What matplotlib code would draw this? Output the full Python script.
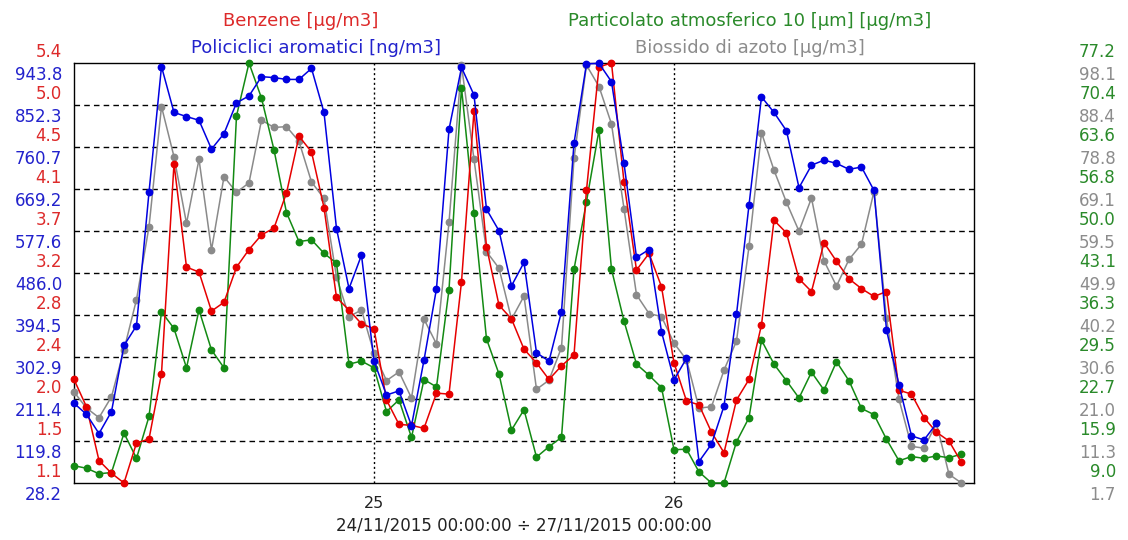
import numpy as np
import matplotlib
matplotlib.use("Agg")
import matplotlib.pyplot as plt

# hourly samples, 24/11/2015 00:00 -> 26/11/2015 23:00
hours = np.arange(72)

benzene = [2.16, 1.88, 1.33, 1.20, 1.10, 1.51, 1.55, 2.22, 4.37, 3.31, 3.26, 2.86, 2.95, 3.31, 3.49, 3.64,
           3.71, 4.07, 4.65, 4.49, 3.92, 3.00, 2.87, 2.73, 2.68,
           1.95, 1.70, 1.69, 1.66, 2.02, 2.01, 3.16, 4.91, 3.52, 2.92, 2.78, 2.47, 2.33, 2.16, 2.30, 2.41,
           4.10, 5.36, 5.40, 4.18, 3.28, 3.45, 3.11,
           2.33, 1.94, 1.90, 1.62, 1.41, 1.95, 2.16, 2.72, 3.79, 3.66, 3.19, 3.06, 3.56, 3.37, 3.19, 3.09,
           3.01, 3.06, 2.05, 2.01, 1.77, 1.62, 1.53, 1.31]

policiclici = [202, 178, 136, 184, 328, 371, 662, 936, 836, 827, 819, 756, 790, 857, 872, 914,
               912, 908, 908, 932, 836, 583, 452, 525, 294,
               220, 229, 153, 296, 452, 799, 934, 874, 625, 578, 458, 509, 312, 294, 402, 769,
               942, 943, 903, 725, 520, 537, 358,
               253, 300, 75, 113, 196, 396, 634, 870, 836, 796, 672, 721, 732, 725, 712, 717,
               666, 362, 242, 131, 122, 158, np.nan, np.nan]

pm10 = [11.8, 11.4, 10.5, 10.7, 17.1, 13.0, 19.8, 36.8, 34.1, 27.7, 37.1, 30.6, 27.7, 68.6, 77.2, 71.5,
        63.1, 52.9, 48.2, 48.5, 46.3, 44.7, 28.3, 28.8, 27.7,
        20.6, 22.5, 16.4, 25.8, 24.6, 40.4, 73.2, 52.8, 32.4, 26.7, 17.6, 20.9, 13.2, 14.9, 16.4, 43.7,
        54.7, 66.3, 43.7, 35.3, 28.3, 26.5, 24.5,
        14.4, 14.5, 10.8, 9.0, 9.0, 15.7, 19.6, 32.2, 28.3, 25.6, 22.8, 27.0, 24.1, 28.7, 25.6, 21.1,
        20.1, 16.1, 12.6, 13.3, 13.0, 13.4, 13.1, 13.7]

no2 = [22.6, 18.9, 16.7, 21.5, 32.3, 43.8, 60.5, 88.1, 76.6, 61.3, 76.0, 55.2, 72.0, 68.4, 70.6, 85.0,
       83.3, 83.5, 80.1, 70.8, 67.0, 49.0, 39.9, 41.4, 31.5,
       25.2, 27.2, 21.2, 39.3, 33.6, 61.5, 97.6, 76.0, 54.8, 51.0, 39.3, 44.6, 23.2, 25.3, 32.8, 76.2,
       97.6, 92.7, 84.1, 64.7, 44.9, 40.6, 39.9,
       33.8, 30.0, 18.9, 19.2, 27.6, 34.3, 56.0, 82.1, 73.5, 66.1, 59.5, 67.1, 52.7, 46.9, 53.0, 56.5,
       68.6, 39.5, 20.9, 10.1, 9.7, 15.4, 3.7, 1.7]

benzene_labels = ["1.1", "1.5", "2.0", "2.4", "2.8", "3.2", "3.7", "4.1", "4.5", "5.0", "5.4"]
polic_labels = ["28.2", "119.8", "211.4", "302.9", "394.5", "486.0", "577.6", "669.2", "760.7", "852.3", "943.8"]
pm10_labels = ["9.0", "15.9", "22.7", "29.5", "36.3", "43.1", "50.0", "56.8", "63.6", "70.4", "77.2"]
no2_labels = ["1.7", "11.3", "21.0", "30.6", "40.2", "49.9", "59.5", "69.1", "78.8", "88.4", "98.1"]

day_ticks = [24, 48]
day_labels = ["25", "26"]

RED = "#e60000"
BLUE = "#0000e0"
GREEN = "#138a13"
GRAY = "#8a8a8a"

fig = plt.figure(figsize=(11.28, 5.4), dpi=100)
ax = fig.add_axes([74 / 1128, 57 / 540, 900 / 1128, 420 / 540])
ax.set_xlim(0, 72)
ax.set_ylim(0, 10)

# grid
for k in range(1, 10):
    ax.axhline(k, color="black", lw=1, ls=(0, (4, 3)), zorder=1)
for d in day_ticks:
    ax.axvline(d, color="black", lw=1, ls=(0, (1.5, 2)), zorder=1)
ax.set_xticks(day_ticks, day_labels)
ax.set_yticks([])
ax.tick_params(axis="x", length=0, labelsize=11.5, pad=9, labelcolor="#222222")
for s in ax.spines.values():
    s.set_linewidth(1)


def series_axis(vals, lo, hi, color, z):
    a = ax.twinx()
    a.set_ylim(lo, hi)
    a.set_yticks([])
    a.axis("off")
    a.plot(hours, vals, color=color, lw=1.1, marker="o", ms=4.6, zorder=z, clip_on=False)
    return a


ax_no2 = series_axis(no2, 1.7, 98.1, GRAY, 2)
ax_pm = series_axis(pm10, 9.0, 77.2, GREEN, 3)
ax_bz = series_axis(benzene, 1.1, 5.4, RED, 4)
ax_pa = series_axis(policiclici, 28.2, 943.8, BLUE, 5)


def axis_labels(a, lo, hi, labels, color, xfrac, dx, dy, ha):
    for v, lab in zip(np.linspace(lo, hi, 11), labels):
        a.annotate(lab, xy=(xfrac, v), xycoords=("axes fraction", "data"),
                   xytext=(dx, dy), textcoords="offset pixels",
                   ha=ha, va="center", color=color, fontsize=12, annotation_clip=False)


axis_labels(ax_bz, 1.1, 5.4, benzene_labels, "#dd2a2a", 0, -12, 11, "right")
axis_labels(ax_pa, 28.2, 943.8, polic_labels, "#2222cc", 0, -12, -12, "right")
axis_labels(ax_pm, 9.0, 77.2, pm10_labels, "#2a8a2a", 1, 142, 11, "right")
axis_labels(ax_no2, 1.7, 98.1, no2_labels, "#8c8c8c", 1, 142, -12, "right")

# series names
fig.text(301 / 1128, 1 - 21 / 540, "Benzene [µg/m3]", color="#dd2a2a", fontsize=13, ha="center", va="center")
fig.text(316 / 1128, 1 - 48 / 540, "Policiclici aromatici [ng/m3]", color="#2222cc", fontsize=13, ha="center", va="center")
fig.text(750 / 1128, 1 - 21 / 540, "Particolato atmosferico 10 [µm] [µg/m3]", color="#2a8a2a", fontsize=13, ha="center", va="center")
fig.text(750 / 1128, 1 - 48 / 540, "Biossido di azoto [µg/m3]", color="#8c8c8c", fontsize=13, ha="center", va="center")

fig.text(524 / 1128, 1 - 525 / 540, "24/11/2015 00:00:00 ÷ 27/11/2015 00:00:00", color="#222222",
         fontsize=12, ha="center", va="center")

fig.savefig("out.png", dpi=100, facecolor="white")
